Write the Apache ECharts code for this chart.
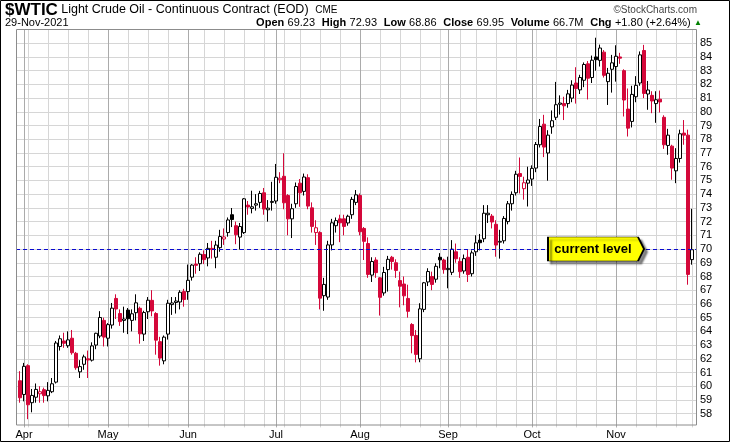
<!DOCTYPE html>
<html>
<head>
<meta charset="utf-8">
<script src="https://cdn.jsdelivr.net/npm/echarts@6/dist/echarts.min.js"></script>
<style>
html,body{margin:0;padding:0;background:#fff;}
#chart{width:730px;height:442px;}
</style>
</head>
<body>
<div id="chart"></div>
<script>
// ---------------- DATA ----------------
const dates = [
'2021-03-31',
'2021-04-01','2021-04-05','2021-04-06','2021-04-07','2021-04-08','2021-04-09','2021-04-12','2021-04-13','2021-04-14','2021-04-15','2021-04-16',
'2021-04-19','2021-04-20','2021-04-21','2021-04-22','2021-04-23','2021-04-26','2021-04-27','2021-04-28','2021-04-29','2021-04-30',
'2021-05-03','2021-05-04','2021-05-05','2021-05-06','2021-05-07','2021-05-10','2021-05-11','2021-05-12','2021-05-13','2021-05-14',
'2021-05-17','2021-05-18','2021-05-19','2021-05-20','2021-05-21','2021-05-24','2021-05-25','2021-05-26','2021-05-27','2021-05-28',
'2021-06-01','2021-06-02','2021-06-03','2021-06-04','2021-06-07','2021-06-08','2021-06-09','2021-06-10','2021-06-11',
'2021-06-14','2021-06-15','2021-06-16','2021-06-17','2021-06-18','2021-06-21','2021-06-22','2021-06-23','2021-06-24','2021-06-25',
'2021-06-28','2021-06-29','2021-06-30',
'2021-07-01','2021-07-02','2021-07-06','2021-07-07','2021-07-08','2021-07-09','2021-07-12','2021-07-13','2021-07-14','2021-07-15','2021-07-16',
'2021-07-19','2021-07-20','2021-07-21','2021-07-22','2021-07-23','2021-07-26','2021-07-27','2021-07-28','2021-07-29','2021-07-30',
'2021-08-02','2021-08-03','2021-08-04','2021-08-05','2021-08-06','2021-08-09','2021-08-10','2021-08-11','2021-08-12','2021-08-13',
'2021-08-16','2021-08-17','2021-08-18','2021-08-19','2021-08-20','2021-08-23','2021-08-24','2021-08-25','2021-08-26','2021-08-27',
'2021-08-30','2021-08-31',
'2021-09-01','2021-09-02','2021-09-03','2021-09-07','2021-09-08','2021-09-09','2021-09-10','2021-09-13','2021-09-14','2021-09-15','2021-09-16','2021-09-17',
'2021-09-20','2021-09-21','2021-09-22','2021-09-23','2021-09-24','2021-09-27','2021-09-28','2021-09-29','2021-09-30',
'2021-10-01','2021-10-04','2021-10-05','2021-10-06','2021-10-07','2021-10-08','2021-10-11','2021-10-12','2021-10-13','2021-10-14','2021-10-15',
'2021-10-18','2021-10-19','2021-10-20','2021-10-21','2021-10-22','2021-10-25','2021-10-26','2021-10-27','2021-10-28','2021-10-29',
'2021-11-01','2021-11-02','2021-11-03','2021-11-04','2021-11-05','2021-11-08','2021-11-09','2021-11-10','2021-11-11','2021-11-12',
'2021-11-15','2021-11-16','2021-11-17','2021-11-18','2021-11-19','2021-11-22','2021-11-23','2021-11-24','2021-11-26','2021-11-29'
];

const opens = [
60.40,
59.40,61.50,58.80,59.20,59.45,59.75,59.30,59.60,60.30,62.90,63.30,
62.95,63.50,62.40,61.05,61.60,62.00,61.90,63.00,63.66,64.80,
63.50,64.46,66.40,65.30,64.80,65.55,64.80,65.36,65.68,63.80,
65.43,66.26,65.30,63.25,61.85,63.80,65.95,66.10,66.14,66.90,
66.90,67.95,68.90,68.93,69.60,69.35,70.05,69.40,70.10,
70.73,71.20,72.50,71.70,70.87,71.20,73.20,72.96,73.20,73.40,
74.10,72.86,73.40,
73.50,75.05,75.30,73.90,72.20,73.30,74.80,74.20,75.20,73.00,71.20,
71.20,66.60,66.50,70.30,71.70,72.20,72.20,71.90,72.50,73.40,
73.90,71.50,70.40,68.10,69.20,67.90,66.80,68.50,69.40,69.00,
67.70,67.45,66.40,64.50,63.70,62.00,65.60,67.60,68.00,67.80,
69.40,69.20,
68.50,68.30,69.80,69.10,68.40,69.40,68.20,69.80,70.65,70.75,72.50,72.40,
71.80,70.50,70.60,72.00,73.30,74.10,75.50,74.40,74.80,
75.10,75.90,77.60,79.10,77.00,78.90,79.60,80.55,80.60,80.60,81.00,
82.10,81.60,82.30,83.50,82.50,84.00,83.75,84.35,82.20,83.10,
83.30,84.00,83.00,80.20,79.30,81.10,82.10,84.47,81.30,81.20,
80.60,80.92,79.60,77.55,77.50,75.70,76.60,78.45,78.30,69.23
];

const highs = [
61.10,
61.70,61.60,59.80,60.20,60.00,59.90,60.30,60.60,63.30,63.70,63.90,
64.00,64.10,62.50,61.90,62.30,62.60,63.20,63.90,65.47,65.00,
64.60,66.07,66.70,65.60,65.80,65.70,65.60,66.70,65.80,65.50,
66.50,67.00,65.40,63.60,63.70,66.30,66.50,66.50,67.00,67.10,
68.87,68.90,69.40,69.76,69.90,70.44,70.60,70.60,71.40,
71.50,72.30,72.99,72.00,71.90,73.72,73.50,74.25,74.00,74.24,
74.45,73.57,74.90,
76.20,75.60,76.98,74.00,73.30,74.85,75.10,75.50,75.45,73.40,72.10,
71.30,67.90,70.60,72.20,72.30,72.50,72.50,72.50,73.80,74.30,
74.05,71.60,70.85,69.40,69.40,67.95,68.70,69.50,69.50,69.25,
68.35,68.00,67.40,64.60,64.10,66.05,67.60,68.60,68.35,68.96,
69.70,69.30,
69.44,70.65,70.40,69.40,69.60,70.00,69.90,71.00,71.10,73.20,73.20,72.55,
72.10,71.40,72.40,73.50,74.20,75.70,76.67,75.27,76.00,
76.10,77.80,79.48,79.78,78.66,80.10,82.18,81.20,81.10,81.60,82.30,
83.25,82.70,83.60,83.70,84.10,85.40,84.90,84.50,83.20,84.15,
84.85,84.30,83.10,81.70,81.90,82.60,84.40,84.88,82.25,81.50,
81.50,81.55,79.75,78.76,77.60,77.35,78.70,79.40,78.70,72.93
];

const lows = [
58.80,
58.90,57.60,58.10,58.80,58.80,58.80,58.90,59.50,60.20,62.60,62.80,
62.80,62.30,61.20,60.60,61.20,60.60,61.80,62.70,63.50,62.90,
62.90,64.20,64.90,64.40,63.90,63.80,64.00,64.80,63.10,63.30,
64.90,65.10,62.30,61.50,61.60,63.40,65.20,65.30,65.60,65.80,
66.30,67.70,68.20,68.40,68.90,68.74,69.30,68.60,69.80,
70.30,70.90,71.60,70.35,69.96,71.10,72.50,72.60,72.80,73.00,
72.50,72.00,72.80,
73.30,74.80,72.90,71.00,70.80,73.00,73.08,73.90,72.90,71.20,70.30,
65.60,65.50,66.30,69.90,71.20,70.50,71.00,71.70,72.20,73.20,
71.00,69.20,67.90,67.60,67.90,65.15,66.60,66.90,68.50,67.90,
65.75,65.90,65.00,62.40,61.74,61.75,65.40,67.30,67.00,67.55,
68.60,68.20,
67.14,68.10,69.00,67.90,68.20,67.60,68.00,69.50,69.90,70.50,71.90,71.50,
69.44,69.30,70.40,71.80,72.80,73.90,74.05,73.60,73.10,
74.60,75.60,77.40,76.70,74.98,78.40,79.40,79.80,79.40,80.30,80.70,
80.60,81.30,81.80,80.90,82.10,83.00,83.30,82.50,80.50,81.40,
82.20,83.50,79.66,78.20,78.86,80.70,81.90,81.00,80.15,79.90,
79.20,79.95,77.30,76.87,75.05,74.80,76.30,77.60,67.40,68.86
];

const closes = [
59.16,
61.45,58.65,59.33,59.77,59.60,59.32,59.70,60.18,63.15,63.46,63.13,
63.38,62.44,61.35,61.43,62.14,61.91,62.94,63.86,65.01,63.58,
64.49,65.69,65.63,64.71,64.90,64.92,65.28,66.08,63.82,65.37,
66.27,65.49,63.36,62.05,63.58,66.05,66.07,66.21,66.85,66.32,
67.72,68.83,68.81,69.62,69.23,70.05,69.96,70.29,70.91,
70.88,72.12,72.15,71.04,71.64,73.66,73.06,73.08,73.30,74.05,
72.91,72.98,73.47,
75.23,75.16,73.37,72.20,72.94,74.56,74.10,75.25,73.13,71.65,71.55,
66.42,67.42,70.30,71.91,72.07,71.91,71.65,72.39,73.62,73.95,
71.26,70.56,68.15,69.09,68.28,66.48,68.29,69.25,69.09,68.44,
67.29,66.59,65.46,63.69,62.32,65.64,67.54,68.36,67.42,68.74,
69.21,68.50,
68.59,69.99,69.29,68.35,69.30,68.14,69.72,70.45,70.46,72.61,72.61,71.97,
70.29,70.56,72.23,73.30,73.98,75.45,75.29,74.83,75.03,
75.88,77.62,78.93,77.43,78.30,79.35,80.52,80.64,80.44,81.31,81.95,
81.70,82.50,83.45,82.45,83.76,83.80,84.65,82.66,82.81,83.57,
84.05,83.91,80.86,78.81,81.27,81.93,84.15,81.34,81.59,80.79,
80.88,80.72,77.60,78.30,75.90,76.60,78.40,78.30,68.15,69.95
];

const closeBeforeFirst = 60.55;      // close of the session before the first bar (colours the first bar)
const currentLevel = 70;             // dashed "current level" line
const calloutDate = '2021-11-10';    // where the callout's arrow tip sits
const calloutText = 'current level';
const monthNames = ['Jan','Feb','Mar','Apr','May','Jun','Jul','Aug','Sep','Oct','Nov','Dec'];
const yMin = 57, yMax = 86, yStep = 1;
const symbolName = '$WTIC';
const instrumentName = 'Light Crude Oil - Continuous Contract (EOD)';
const exchangeName = 'CME';
const headerDate = '29-Nov-2021';
const volumeText = '66.7M';
const creditText = '\u00A9StockCharts.com';

// ---------------- STYLE ----------------
const RED = '#d4083a';
const BLACK = '#000000';
const FONT = '"Liberation Sans", Arial, Helvetica, sans-serif';

// padded category list (one empty slot at each end)
const cats = ['pad-start'].concat(dates, ['pad-end']);

function dayOf(d){ return new Date(d + 'T00:00:00Z'); }
function isMonthStart(ci){
  const di = ci - 1;
  if (di < 1 || di >= dates.length) return false;
  return dates[di].slice(5,7) !== dates[di-1].slice(5,7);
}
function isWeekStart(ci){
  const di = ci - 1;
  if (di < 1 || di >= dates.length) return false;
  const a = dayOf(dates[di-1]), b = dayOf(dates[di]);
  return b.getUTCDay() <= a.getUTCDay() || (b - a) >= 7 * 86400000;
}

// StockCharts colouring: black if close >= previous close, red otherwise;
// hollow if close >= open, filled otherwise.
function barStyle(i){
  const prev = i === 0 ? closeBeforeFirst : closes[i-1];
  const col = closes[i] >= prev ? BLACK : RED;
  const fill = closes[i] >= opens[i] ? '#ffffff' : col;
  return {
    color: fill, color0: fill,
    borderColor: col, borderColor0: col, borderColorDoji: col,
    borderWidth: 1
  };
}

const candleData = dates.map((d, i) => ({
  value: [d, opens[i], closes[i], lows[i], highs[i]],
  itemStyle: barStyle(i)
}));

const last = dates.length - 1;
const chg = closes[last] - closes[last-1];
const chgPct = chg / closes[last-1] * 100;
const sgn = v => (v >= 0 ? '+' : '') + v.toFixed(2);
const ohlcLine =
  '{k|Open} {v|' + opens[last].toFixed(2) + '}  {k|High} {v|' + highs[last].toFixed(2) +
  '}  {k|Low} {v|' + lows[last].toFixed(2) + '}  {k|Close} {v|' + closes[last].toFixed(2) +
  '}  {k|Volume} {v|' + volumeText + '}  {k|Chg} {v|' + sgn(chg) + ' (' + sgn(chgPct) + '%)} {t|\u25B2}';

const chart = echarts.init(document.getElementById('chart'), null, {renderer: 'canvas'});

const option = {
  animation: false,
  backgroundColor: '#ffffff',
  textStyle: { fontFamily: FONT },
  grid: { left: 16, right: 34, top: 29.5, bottom: 14.6, containLabel: false },
  xAxis: [
    {
      type: 'category',
      data: cats,
      boundaryGap: false,
      axisLine: { show: false },
      axisTick: { show: false },
      axisLabel: {
        interval: (idx) => isMonthStart(idx),
        formatter: (v) => monthNames[parseInt(v.slice(5,7), 10) - 1],
        color: '#000', fontSize: 11, fontFamily: FONT, margin: 2
      },
      splitLine: {
        show: true,
        interval: (idx) => isWeekStart(idx),
        lineStyle: { color: '#d6d6d6', width: 1 }
      }
    },
    {
      type: 'category',
      data: cats,
      boundaryGap: false,
      position: 'bottom',
      axisLine: { show: false },
      axisTick: { show: false },
      axisLabel: { show: false },
      splitLine: {
        show: true,
        interval: (idx) => isMonthStart(idx),
        lineStyle: { color: '#ababab', width: 1 }
      }
    }
  ],
  yAxis: {
    type: 'value',
    position: 'right',
    min: yMin, max: yMax, interval: yStep,
    axisLine: { show: false },
    axisTick: { show: false },
    axisLabel: {
      showMinLabel: false, showMaxLabel: false,
      color: '#000', fontSize: 11, fontFamily: FONT, margin: 4
    },
    splitLine: {
      show: true, showMinLine: false, showMaxLine: false,
      lineStyle: { color: '#d6d6d6', width: 1 }
    }
  },
  series: [{
    type: 'candlestick',
    xAxisIndex: 0,
    yAxisIndex: 0,
    barWidth: 3,
    dimensions: ['date', 'open', 'close', 'lowest', 'highest'],
    encode: { x: 'date', y: ['open', 'close', 'lowest', 'highest'] },
    data: candleData,
    markLine: {
      silent: true,
      z: 4,
      symbol: ['none', 'none'],
      label: { show: false },
      lineStyle: { type: [4, 3], color: '#0a0ad0', width: 1 },
      data: [{ yAxis: currentLevel }]
    },
    markPoint: {
      silent: true,
      z: 8,
      symbol: 'path://M0,0 L90,0 L96,12 L90,24 L0,24 Z',
      symbolSize: [96, 24],
      symbolOffset: [-48, 0],
      itemStyle: {
        color: '#ffff00', borderColor: '#000', borderWidth: 1,
        shadowColor: 'rgba(0,0,0,0.45)', shadowBlur: 2, shadowOffsetX: 3, shadowOffsetY: 3
      },
      label: {
        show: true, position: 'inside', formatter: calloutText,
        color: '#000', fontSize: 13, fontWeight: 'bold', fontFamily: FONT, offset: [-3, 0]
      },
      data: [{ coord: [calloutDate, currentLevel] }]
    }
  }],
  graphic: [
    { type: 'rect', silent: true, z: 50,
      shape: { x: 16.5, y: 29.5, width: 680, height: 395.5 },
      style: { fill: 'none', stroke: '#8c8c8c', lineWidth: 1 } },
    { type: 'rect', silent: true, z: 50,
      shape: { x: 0.5, y: 0.5, width: 729, height: 441 },
      style: { fill: 'none', stroke: '#000', lineWidth: 1 } },
    { type: 'text', silent: true, z: 50,
      style: {
        x: 5, y: 10, verticalAlign: 'middle',
        text: '{s|' + symbolName + '} {n|' + instrumentName + '}  {e|' + exchangeName + '}',
        rich: {
          s: { fontSize: 17, fontWeight: 'bold', fontFamily: FONT, fill: '#000' },
          n: { fontSize: 12.5, fontFamily: FONT, fill: '#000' },
          e: { fontSize: 10, fontFamily: FONT, fill: '#000' }
        }
      } },
    { type: 'text', silent: true, z: 50,
      style: { x: 697, y: 10, align: 'right', verticalAlign: 'middle',
        text: creditText, fontSize: 10, fontFamily: FONT, fill: '#444' } },
    { type: 'text', silent: true, z: 50,
      style: { x: 5, y: 23, verticalAlign: 'middle',
        text: headerDate, fontSize: 11, fontFamily: FONT, fill: '#000' } },
    { type: 'text', silent: true, z: 50,
      style: {
        x: 702, y: 23, align: 'right', verticalAlign: 'middle',
        text: ohlcLine,
        rich: {
          k: { fontSize: 11, fontWeight: 'bold', fontFamily: FONT, fill: '#000' },
          v: { fontSize: 11, fontFamily: FONT, fill: '#000' },
          t: { fontSize: 8, fontFamily: FONT, fill: '#008000' }
        }
      } }
  ]
};

chart.setOption(option);
</script>
</body>
</html>
